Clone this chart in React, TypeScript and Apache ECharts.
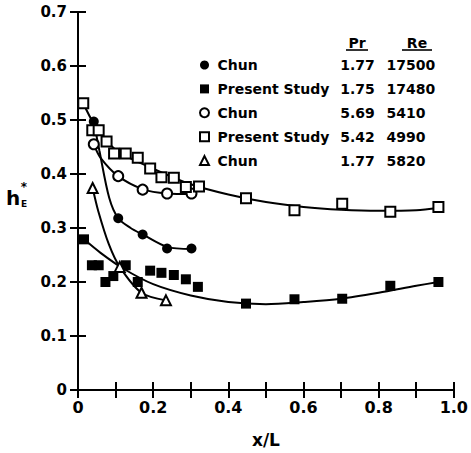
import React, { useEffect, useRef } from "react";
import * as echarts from "echarts";

// ---- data ----
const seriesLabels = ["Chun", "Present Study", "Chun", "Present Study", "Chun"];
const prValues = ["1.77", "1.75", "5.69", "5.42", "1.77"];
const reValues = ["17500", "17480", "5410", "4990", "5820"];

const chunHighReX = [0.042, 0.107, 0.172, 0.237, 0.302];
const chunHighReY = [0.497, 0.318, 0.288, 0.262, 0.262];

const presentHighReX = [0.016, 0.037, 0.055, 0.073, 0.094, 0.127, 0.159, 0.192, 0.222, 0.255, 0.287, 0.319, 0.447, 0.576, 0.703, 0.831, 0.959];
const presentHighReY = [0.279, 0.231, 0.231, 0.2, 0.211, 0.231, 0.2, 0.221, 0.217, 0.213, 0.205, 0.191, 0.16, 0.168, 0.169, 0.193, 0.2];

const chunHighPrX = [0.042, 0.107, 0.172, 0.237, 0.302];
const chunHighPrY = [0.455, 0.396, 0.371, 0.364, 0.364];

const presentHighPrX = [0.014, 0.038, 0.055, 0.076, 0.096, 0.127, 0.159, 0.192, 0.222, 0.255, 0.287, 0.322, 0.447, 0.576, 0.703, 0.831, 0.959];
const presentHighPrY = [0.531, 0.481, 0.481, 0.46, 0.438, 0.438, 0.43, 0.41, 0.394, 0.393, 0.376, 0.377, 0.355, 0.333, 0.345, 0.33, 0.339];

const chunLowReX = [0.039, 0.111, 0.169, 0.234];
const chunLowReY = [0.374, 0.228, 0.18, 0.166];

// curves drawn through / fitted to the data
const curveChunHighReX = [0.042, 0.057, 0.083, 0.107, 0.14, 0.172, 0.237, 0.302];
const curveChunHighReY = [0.497, 0.443, 0.356, 0.318, 0.3, 0.288, 0.265, 0.261];

const fitLowPrX = [0.016, 0.06, 0.12, 0.2, 0.3, 0.4, 0.5, 0.6, 0.7, 0.8, 0.9, 0.959];
const fitLowPrY = [0.279, 0.254, 0.225, 0.196, 0.175, 0.163, 0.159, 0.163, 0.169, 0.18, 0.193, 0.2];

const curveChunHighPrX = [0.042, 0.06, 0.107, 0.172, 0.237, 0.302];
const curveChunHighPrY = [0.455, 0.43, 0.396, 0.372, 0.364, 0.363];

const fitHighPrX = [0.014, 0.042, 0.1, 0.2, 0.3, 0.4, 0.5, 0.6, 0.7, 0.8, 0.9, 0.959];
const fitHighPrY = [0.531, 0.494, 0.445, 0.41, 0.381, 0.362, 0.348, 0.339, 0.334, 0.332, 0.333, 0.337];

const curveChunLowReX = [0.039, 0.054, 0.082, 0.111, 0.169, 0.234];
const curveChunLowReY = [0.374, 0.331, 0.27, 0.228, 0.18, 0.166];

const xTicks = { min: 0, max: 1, step: 0.1 };
const yTicks = { min: 0, max: 0.7, step: 0.1 };

const FONT = "'DejaVu Sans', sans-serif";

const pairs = (xs: number[], ys: number[]) => xs.map((x, i) => [x, ys[i]]);
const seriesName = (i: number) => `${seriesLabels[i]} (Pr ${prValues[i]}, Re ${reValues[i]})`;

export default function App() {
  const ref = useRef<HTMLDivElement>(null);
  useEffect(() => {
    if (!ref.current) return;
    const chart = echarts.init(ref.current, null, { renderer: "svg" });

    const filled = { color: "#000", opacity: 1 };
    const hollow = { color: "#fff", borderColor: "#000", borderWidth: 2, opacity: 1 };
    const scatter = (i: number, data: number[][], symbol: string, size: number, style: any) => ({
      type: "scatter",
      name: seriesName(i),
      data,
      symbol,
      symbolSize: size,
      itemStyle: style,
      z: 5,
    });
    const line = (data: number[][], smooth: number) => ({
      type: "line",
      data,
      smooth,
      showSymbol: false,
      symbol: "none",
      lineStyle: { color: "#000", width: 2, opacity: 1 },
      z: 3,
      silent: true,
    });

    const axisCommon = {
      type: "value",
      axisLine: { show: true, lineStyle: { color: "#000", width: 2 } },
      axisTick: { show: true, inside: true, length: 8, lineStyle: { color: "#000", width: 2 } },
      splitLine: { show: false },
    };

    const fmt = (v: number) => (Math.abs(v) < 1e-9 ? "0" : v.toFixed(1));
    const richBase = { fontFamily: FONT, fontSize: 14, fontWeight: "bold", color: "#000", lineHeight: 16 };

    chart.setOption({
      animation: false,
      grid: { left: 78, right: 9, top: 12, bottom: 61 },
      xAxis: [
        {
          ...axisCommon,
          min: xTicks.min,
          max: xTicks.max,
          interval: xTicks.step,
          position: "bottom",
          name: "x/L",
          nameLocation: "middle",
          nameGap: 41,
          nameTextStyle: { fontFamily: FONT, fontSize: 17, fontWeight: "bold", color: "#000" },
          axisLabel: {
            margin: 9,
            fontFamily: FONT,
            fontSize: 16,
            fontWeight: "bold",
            color: "#000",
            formatter: (v: number) => (Math.round(v * 10) % 2 === 0 ? fmt(v) : ""),
          },
        },
        {
          ...axisCommon,
          min: xTicks.min,
          max: xTicks.max,
          interval: xTicks.step,
          position: "top",
          axisLabel: { show: false },
        },
      ],
      yAxis: [
        {
          ...axisCommon,
          min: yTicks.min,
          max: yTicks.max,
          interval: yTicks.step,
          position: "left",
          axisLabel: {
            margin: 11,
            fontFamily: FONT,
            fontSize: 15,
            fontWeight: "bold",
            color: "#000",
            formatter: fmt,
          },
        },
        {
          ...axisCommon,
          min: yTicks.min,
          max: yTicks.max,
          interval: yTicks.step,
          position: "right",
          axisLabel: { show: false },
        },
      ],
      legend: {
        orient: "vertical",
        left: 194,
        top: 52,
        itemWidth: 9,
        itemHeight: 9,
        itemGap: 7.9,
        selectedMode: false,
        data: [0, 1, 2, 3, 4].map(seriesName),
        formatter: (name: string) => {
          const i = [0, 1, 2, 3, 4].find((k) => seriesName(k) === name) ?? 0;
          return `{n|${seriesLabels[i]}}{p|${prValues[i]}}{r|${reValues[i]}}`;
        },
        textStyle: {
          ...richBase,
          rich: {
            n: { ...richBase, width: 118, padding: [0, 0, 0, 3.5] },
            p: { ...richBase, width: 44, align: "right" },
            r: { ...richBase, padding: [0, 0, 0, 7] },
          },
        },
      },
      graphic: [
        { type: "text", x: 357, y: 43, style: { text: "Pr", font: `bold 14px ${FONT}`, fill: "#000", textAlign: "center", textVerticalAlign: "middle" } },
        { type: "text", x: 417, y: 43, style: { text: "Re", font: `bold 14px ${FONT}`, fill: "#000", textAlign: "center", textVerticalAlign: "middle" } },
        { type: "line", shape: { x1: 346, y1: 50, x2: 368, y2: 50 }, style: { stroke: "#000", lineWidth: 1.6 } },
        { type: "line", shape: { x1: 402, y1: 50, x2: 432, y2: 50 }, style: { stroke: "#000", lineWidth: 1.6 } },
        { type: "text", x: 6, y: 197.5, style: { text: "h", font: `bold 20px ${FONT}`, fill: "#000", textVerticalAlign: "middle" } },
        { type: "text", x: 24, y: 186.5, style: { text: "*", font: `bold 12px ${FONT}`, fill: "#000", textAlign: "center", textVerticalAlign: "middle" } },
        { type: "text", x: 21, y: 204, style: { text: "E", font: `bold 9px ${FONT}`, fill: "#000", textVerticalAlign: "middle" } },
      ],
      series: [
        line(pairs(curveChunHighReX, curveChunHighReY), 0.3),
        line(pairs(fitLowPrX, fitLowPrY), 0.3),
        line(pairs(curveChunHighPrX, curveChunHighPrY), 0.3),
        line(pairs(fitHighPrX, fitHighPrY), 0.3),
        line(pairs(curveChunLowReX, curveChunLowReY), 0.3),
        scatter(0, pairs(chunHighReX, chunHighReY), "circle", 10, filled),
        scatter(1, pairs(presentHighReX, presentHighReY), "rect", 10, filled),
        scatter(2, pairs(chunHighPrX, chunHighPrY), "circle", 10, hollow),
        scatter(3, pairs(presentHighPrX, presentHighPrY), "rect", 10, hollow),
        scatter(4, pairs(chunLowReX, chunLowReY), "triangle", 10, hollow),
      ],
    });
    return () => chart.dispose();
  }, []);
  return <div ref={ref} style={{ width: 471, height: 453, position: "absolute", left: 0, top: 0 }} />;
}
